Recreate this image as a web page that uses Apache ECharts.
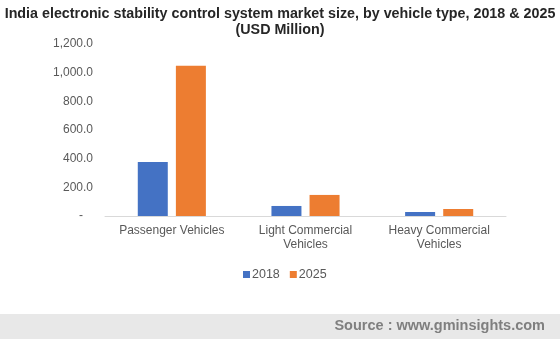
<!DOCTYPE html>
<html>
<head>
<meta charset="utf-8">
<script src="https://cdn.jsdelivr.net/npm/echarts@6/dist/echarts.min.js"></script>
<style>
  html, body { margin: 0; padding: 0; background: #fff; }
  #chart { width: 560px; height: 339px; }
</style>
</head>
<body>
<div id="chart"></div>
<script>
// Vehicle type categories and market size (USD Million)
var categories = ['Passenger Vehicles', 'Light Commercial\nVehicles', 'Heavy Commercial\nVehicles'];
var values2018 = [377, 70, 28];
var values2025 = [1049, 147, 49];
var seriesNames = ['2018', '2025'];
var yTicks = { min: 0, max: 1200, interval: 200 };

var FONT = '"Liberation Sans", Arial, sans-serif';
var chart = echarts.init(document.getElementById('chart'), null, { renderer: 'canvas' });

function fmtTick(v) {
  if (v === 0) return '-   ';
  return v.toLocaleString('en-US', { minimumFractionDigits: 1, maximumFractionDigits: 1 });
}

chart.setOption({
  animation: false,
  backgroundColor: '#ffffff',
  title: {
    text: 'India electronic stability control system market size, by vehicle type, 2018 & 2025\n(USD Million)',
    left: 'center',
    top: 1,
    textStyle: {
      fontFamily: FONT, fontSize: 14.3, fontWeight: 'bold', color: '#262626', lineHeight: 16
    }
  },
  legend: {
    data: seriesNames,
    left: 238,
    top: 263,
    itemWidth: 7,
    itemHeight: 7,
    itemGap: 10,
    icon: 'rect',
    textStyle: { fontFamily: FONT, fontSize: 12.5, color: '#595959', padding: [0, 0, 0, -3] }
  },
  grid: { left: 105, right: 54, top: 44, bottom: 123 },
  xAxis: {
    type: 'category',
    data: categories,
    axisLine: { lineStyle: { color: '#d9d9d9', width: 1 } },
    axisTick: { show: false },
    axisLabel: {
      fontFamily: FONT, fontSize: 12, color: '#595959', lineHeight: 14, margin: 8, interval: 0
    }
  },
  yAxis: {
    type: 'value',
    min: yTicks.min,
    max: yTicks.max,
    interval: yTicks.interval,
    axisLine: { show: false },
    axisTick: { show: false },
    splitLine: { show: false },
    axisLabel: {
      fontFamily: FONT, fontSize: 12, color: '#595959', margin: 12,
      formatter: fmtTick
    }
  },
  series: [
    {
      name: seriesNames[0],
      type: 'bar',
      data: values2018,
      itemStyle: { color: '#4472C4' },
      barWidth: 30,
      barGap: '27%'
    },
    {
      name: seriesNames[1],
      type: 'bar',
      data: values2025,
      itemStyle: { color: '#ED7D31' },
      barWidth: 30,
      barGap: '27%'
    }
  ],
  graphic: [
    {
      type: 'rect',
      left: 0,
      top: 314,
      shape: { width: 560, height: 25 },
      style: { fill: '#e8e8e8' },
      silent: true
    },
    {
      type: 'text',
      right: 15,
      top: 318,
      style: {
        text: 'Source : www.gminsights.com',
        font: 'bold 14.5px ' + FONT,
        fill: '#7f7f7f'
      },
      silent: true
    }
  ]
});
</script>
</body>
</html>
